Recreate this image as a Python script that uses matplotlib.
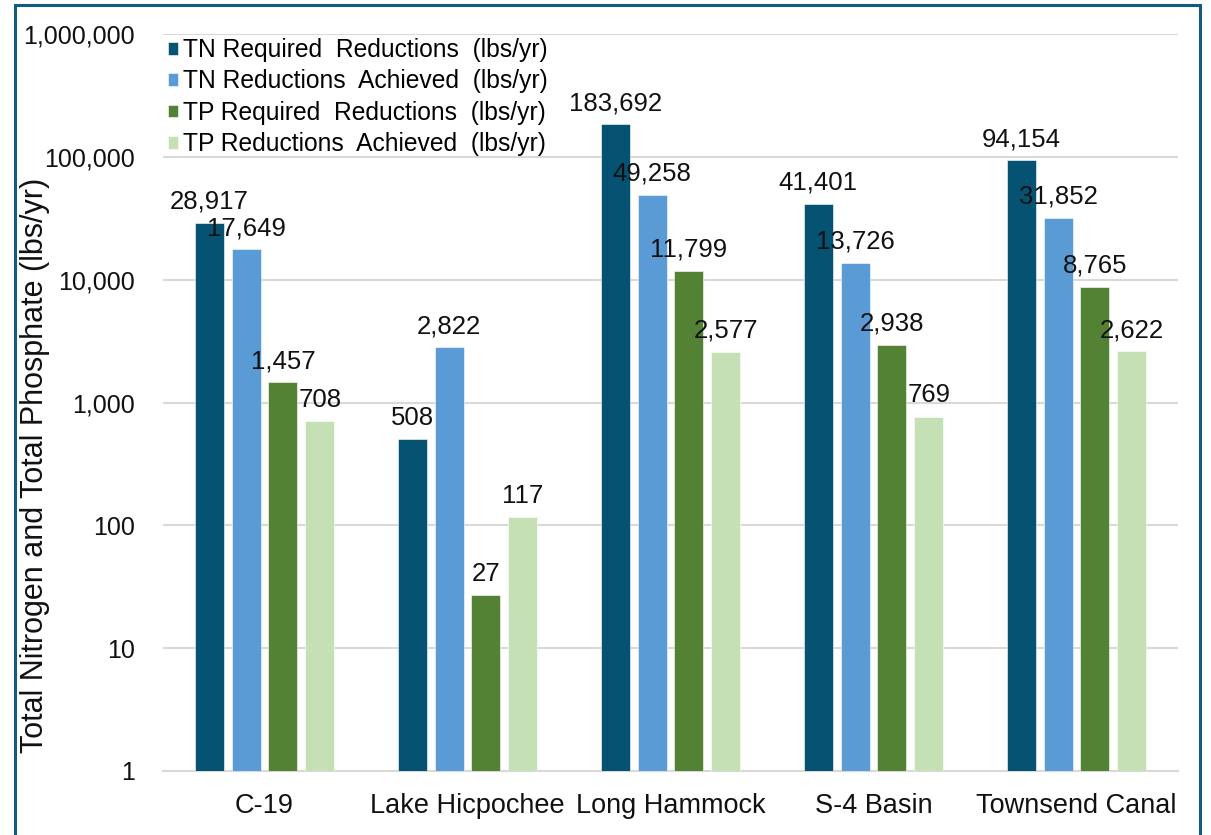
import numpy as np
import matplotlib.pyplot as plt
from matplotlib.patches import Rectangle
from matplotlib.ticker import FixedLocator, FuncFormatter, NullLocator

plt.rcParams['font.family'] = ['Liberation Sans', 'DejaVu Sans']

# data
sites = ['C-19', 'Lake Hicpochee', 'Long Hammock', 'S-4 Basin', 'Townsend Canal']
tn_required = [28917, 508, 183692, 41401, 94154]
tn_achieved = [17649, 2822, 49258, 13726, 31852]
tp_required = [1457, 27, 11799, 2938, 8765]
tp_achieved = [708, 117, 2577, 769, 2622]
series_names = ['TN Required  Reductions  (lbs/yr)',
                'TN Reductions  Achieved  (lbs/yr)',
                'TP Required  Reductions  (lbs/yr)',
                'TP Reductions  Achieved  (lbs/yr)']
yticks = [1, 10, 100, 1000, 10000, 100000, 1000000]

colors = ['#055273', '#5B9BD5', '#548235', '#C5E0B4']

fig = plt.figure(figsize=(12.11, 8.35), dpi=100)
ax = fig.add_axes([163/1211, 1-771/835, (1178-163)/1211, (771-34)/835])

x = np.arange(len(sites))
step = 0.182
width = 0.143
all_series = [tn_required, tn_achieved, tp_required, tp_achieved]

for i, (vals, name, c) in enumerate(zip(all_series, series_names, colors)):
    pos = x + (i - 1.5) * step
    ax.bar(pos, vals, width, color=c, label=name, zorder=3,
           edgecolor='white', linewidth=0.4)
    for p, v in zip(pos, vals):
        ax.annotate(f'{v:,}', (p, v), xytext=(0, 6.5), textcoords='offset points',
                    ha='center', va='bottom', fontsize=18.5, color='#111111', zorder=5)

ax.set_yscale('log')
ax.set_ylim(1, 1000000)
ax.set_xlim(-0.5, len(sites) - 0.5)
ax.yaxis.set_major_locator(FixedLocator(yticks))
ax.yaxis.set_minor_locator(NullLocator())
ax.yaxis.set_major_formatter(FuncFormatter(lambda v, p: f'{int(v):,}'))
ax.set_xticks(x)
ax.set_xticklabels(sites)

ax.tick_params(axis='y', length=0, pad=20, labelsize=18, labelcolor='#111111')
ax.tick_params(axis='x', length=0, pad=16, labelsize=19.5, labelcolor='#111111')
ax.grid(axis='y', color='#D9D9D9', linewidth=1.5, zorder=0)
for s in ['top', 'right', 'left']:
    ax.spines[s].set_visible(False)
ax.spines['bottom'].set_color('#D9D9D9')
ax.spines['bottom'].set_linewidth(1.5)

fig.text(35/1211, 1-465/835, 'Total Nitrogen and Total Phosphate (lbs/yr)',
         rotation=90, ha='center', va='center', fontsize=22, color='#111111')

leg = ax.legend(loc='upper left', bbox_to_anchor=(163/1211, 1-33/835),
                bbox_transform=fig.transFigure, frameon=False, fontsize=17.7,
                handlelength=0.42, handleheight=0.42, handletextpad=0.2,
                labelspacing=0.3, borderpad=0.2, borderaxespad=0)
leg.set_zorder(6)

fig.patches.append(Rectangle((15/1211, -0.05), (1200-15)/1211, 1.05 - 5/835,
                             transform=fig.transFigure, fill=False,
                             edgecolor='#135A7E', linewidth=2.2))

fig.savefig('out.png', dpi=100)
